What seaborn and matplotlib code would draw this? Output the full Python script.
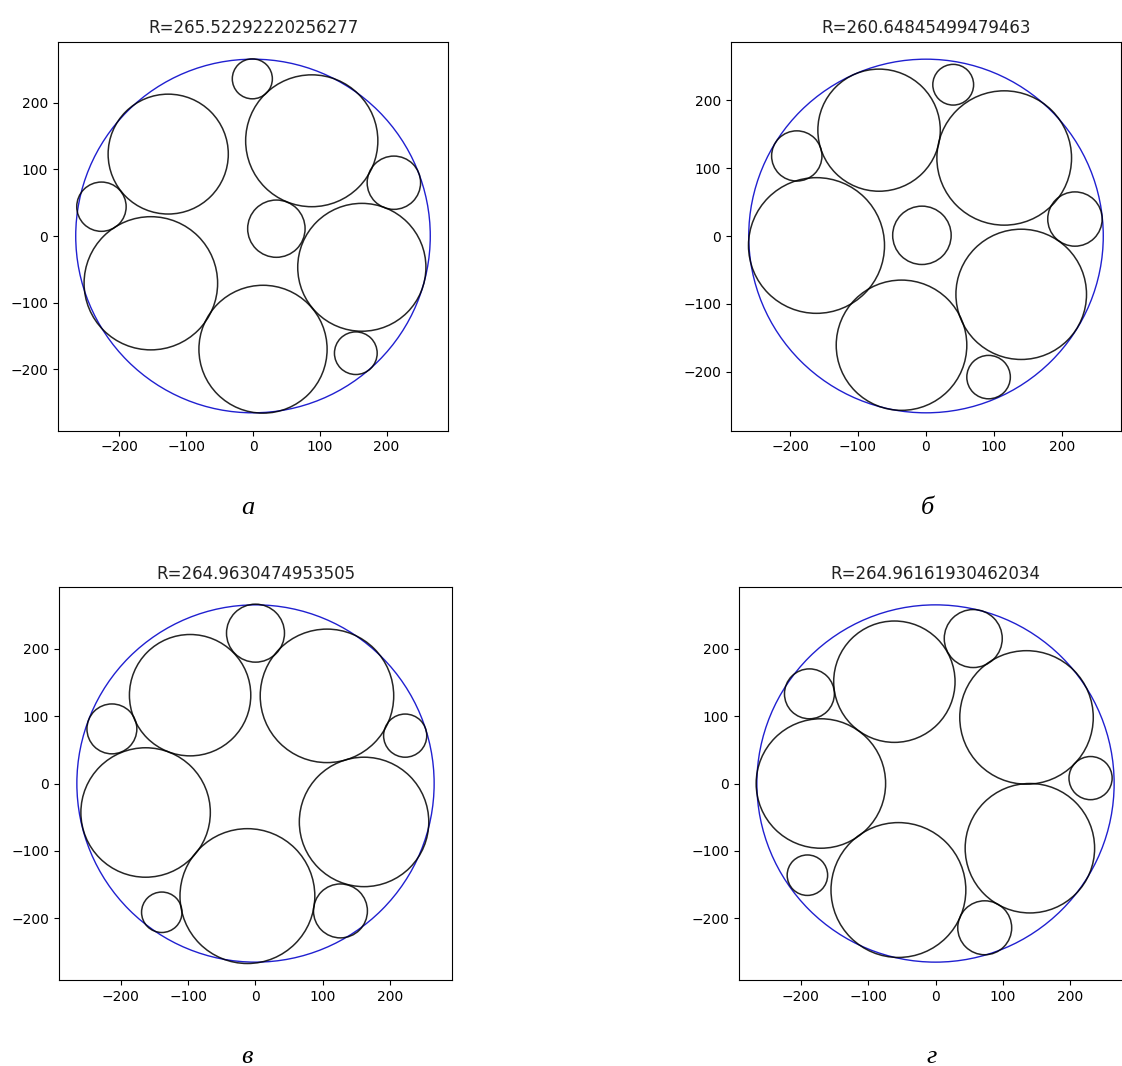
import matplotlib
matplotlib.use("Agg")
import matplotlib.pyplot as plt
from matplotlib.patches import Circle
import seaborn as sns

# Outer (bounding) circle radii for the four packings
R_a = 265.52292220256277
R_b = 260.64845499479463
R_c = 264.9630474953505
R_d = 264.96161930462034

# Inner circles of each packing: centre x, centre y, radius
x_a = [-1, 88, -127, -227, 211, 35, 163, -153, 15, 154]
y_a = [236, 143, 123, 44, 80, 11, -47, -71, -170, -176]
r_a = [30, 99, 90, 37, 40, 43, 96, 100, 96, 32]

x_b = [40, -69, -190, 115, 219, -161, -6, 140, -36, 92]
y_b = [223, 156, 118, 115, 25, -14, 1, -86, -161, -208]
r_b = [30, 90, 37, 99, 40, 100, 43, 96, 96, 32]

x_c = [0, -97, 106, -213, 222, -163, 161, -12, -139, 126]
y_c = [223, 131, 130, 81, 71, -43, -57, -167, -191, -189]
r_c = [43, 90, 99, 37, 32, 96, 96, 100, 30, 40]

x_d = [56, -61, -187, 135, 230, -170, 140, -55, -190, 73]
y_d = [215, 151, 133, 98, 8, 0, -96, -158, -136, -214]
r_d = [43, 90, 37, 99, 32, 96, 96, 100, 30, 40]

panel_letters = ["а", "б", "в", "г"]
ticks = [-200, -100, 0, 100, 200]

sns.set_theme(style="ticks", rc={
    "axes.edgecolor": "black",
    "axes.linewidth": 0.8,
    "xtick.color": "black",
    "ytick.color": "black",
    "xtick.major.width": 0.8,
    "ytick.major.width": 0.8,
    "xtick.major.size": 3.5,
    "ytick.major.size": 3.5,
    "xtick.labelsize": 10,
    "ytick.labelsize": 10,
    "axes.titlesize": 12,
    "text.color": "#222222",
})
plt.rcParams["font.family"] = ["DejaVu Sans"]

W, H = 1122, 1066
fig = plt.figure(figsize=(W / 100, H / 100), dpi=100)

# axes boxes in pixels: left, top, width, height
boxes = [
    (58, 41.5, 390, 389),
    (731, 41.5, 390, 389),
    (59, 587, 393, 393),
    (739, 587, 393, 393),
]
letter_pos = [(248, 508), (927, 508), (247, 1057), (932, 1057)]

packings = [
    (R_a, x_a, y_a, r_a),
    (R_b, x_b, y_b, r_b),
    (R_c, x_c, y_c, r_c),
    (R_d, x_d, y_d, r_d),
]

for (left, top, w, h), (R, xs, ys, rs), letter, (lx, ly) in zip(
        boxes, packings, panel_letters, letter_pos):
    ax = fig.add_axes([left / W, 1 - (top + h) / H, w / W, h / H])
    ax.add_patch(Circle((0, 0), R, fill=False, edgecolor="#2020d0", linewidth=1.0))
    for cx, cy, r in zip(xs, ys, rs):
        ax.add_patch(Circle((cx, cy), r, fill=False, edgecolor="black",
                            linewidth=1.1, alpha=0.85))
    lim = 1.1 * R
    ax.set_xlim(-lim, lim)
    ax.set_ylim(-lim, lim)
    ax.set_xticks(ticks)
    ax.set_yticks(ticks)
    ax.set_title(f"R={R}")
    fig.text(lx / W, 1 - ly / H, letter, ha="center", va="center",
             fontsize=19, style="italic", family=["Liberation Serif"],
             color="black")

fig.savefig("out.png", dpi=100)
